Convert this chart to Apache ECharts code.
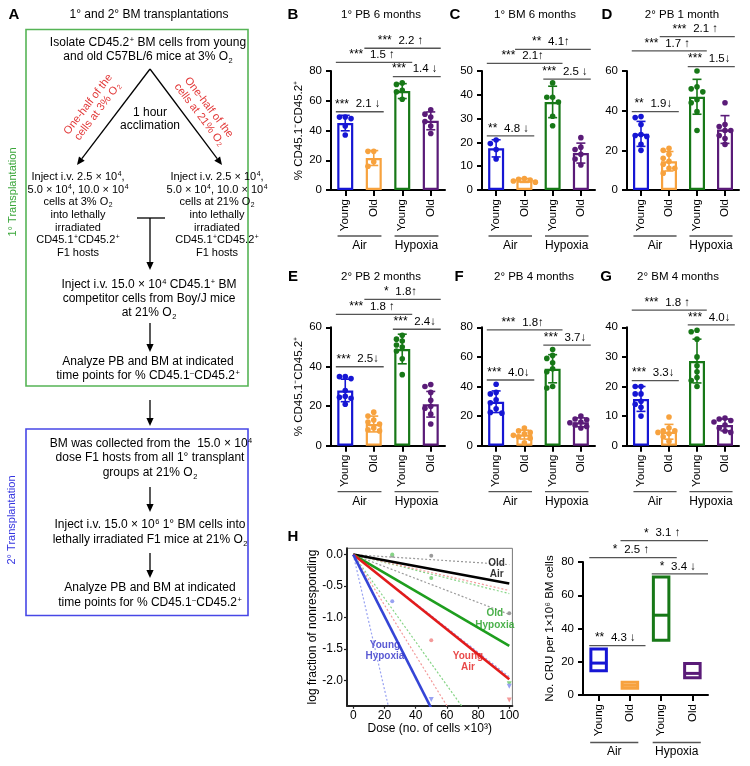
<!DOCTYPE html>
<html><head><meta charset="utf-8">
<script src="https://cdn.jsdelivr.net/npm/echarts@6/dist/echarts.min.js"></script>
<style>html,body{margin:0;padding:0;background:#fff}#c{width:750px;height:766px}</style>
</head><body><div id="c"></div>
<script>
const FONT = 'Liberation Sans, Arial, Helvetica, sans-serif';

// ---------- DATA ----------
const groups = ['Young', 'Old', 'Young', 'Old'];
const conditions = ['Air', 'Hypoxia'];
const yTitle = '% CD45.1\u207BCD45.2\u207A';

// B: 1° PB 6 months
const bMeans = [45, 21.5, 66.5, 46.5];
const bSD = [5.2, 5, 5, 6];
const bPoints = [[49, 49, 48, 43, 37], [26, 26, 19, 16], [72, 71, 67, 66, 61], [54, 51, 49, 46, 43, 38]];
const bPairs = [[0, 1], [0, 2], [1, 3], [2, 3]];
const bStars = ['***', '***', '***', '***'];
const bFolds = ['2.1 \u2193', '1.5 \u2191', '2.2 \u2191', '1.4 \u2193'];

// C: 1° BM 6 months
const cMeans = [17.5, 4, 37, 15.5];
const cSD = [3.6, 0.8, 6.6, 4.2];
const cPoints = [[21, 19.5, 17, 13], [4.8, 4.2, 3.8, 3.3, 4.5], [45, 39, 39, 37, 31, 27], [22, 18, 17, 15, 13, 10.5]];
const cPairs = [[0, 1], [0, 2], [1, 3], [2, 3]];
const cStars = ['**', '***', '**', '***'];
const cFolds = ['4.8 \u2193', '2.1\u2191', '4.1\u2191', '2.5 \u2193'];

// D: 2° PB 1 month
const dMeans = [28.3, 14.5, 47, 30.5];
const dSD = [6.3, 4.9, 8.8, 7];
const dPoints = [[37, 36.5, 33, 28, 27.5, 27, 23, 20], [21, 20, 18, 16, 14.5, 13, 11, 11, 8.5], [60, 52, 51, 49.5, 45.5, 44, 39.5, 30], [44, 33, 32, 30, 30, 27.5, 26, 23]];
const dPairs = [[0, 1], [0, 2], [1, 3], [2, 3]];
const dStars = ['**', '***', '***', '***'];
const dFolds = ['1.9\u2193', '1.7 \u2191', '2.1 \u2191', '1.5\u2193'];

// E: 2° PB 2 months
const eMeans = [28, 11, 49, 21];
const eSD = [5.7, 4, 7.5, 6.5];
const ePoints = [[35, 34, 35, 28, 25, 24.5, 24, 21], [17, 15, 13, 12, 11, 9, 8, 7.5], [56, 54, 53, 51, 50, 48, 44, 36], [31, 30, 27, 23, 20, 19, 16, 11]];
const ePairs = [[0, 1], [0, 2], [1, 3], [2, 3]];
const eStars = ['***', '***', '*', '***'];
const eFolds = ['2.5\u2193', '1.8 \u2191', '1.8\u2191', '2.4\u2193'];

// F: 2° PB 4 months
const fMeans = [29.7, 7.5, 52, 15.8];
const fSD = [7.3, 3, 9.5, 3];
const fPoints = [[41.5, 36, 35, 31, 29, 25, 22.5, 22], [12, 10, 9, 8, 7, 6, 5, 2], [65, 61, 59, 56, 52, 50, 40, 39], [20, 18, 17.5, 16, 15.5, 14, 13, 12]];
const fPairs = [[0, 1], [0, 2], [2, 3]];
const fStars = ['***', '***', '***'];
const fFolds = ['4.0\u2193', '1.8\u2191', '3.7\u2193'];

// G: 2° BM 4 months
const gMeans = [15.8, 4.7, 28.6, 7];
const gSD = [4.2, 2.5, 7.4, 2];
const gPoints = [[20, 20, 17.5, 17.5, 15, 14, 13, 10], [9.7, 6, 5, 5, 4.5, 4, 3, 1.5], [39, 38.5, 36, 30, 27, 25, 23, 22, 20], [9.3, 9, 8.5, 8, 7, 6, 5, 4.5]];
const gPairs = [[0, 1], [0, 2], [2, 3]];
const gStars = ['***', '***', '***'];
const gFolds = ['3.3\u2193', '1.8 \u2191', '4.0\u2193'];

// H right: CRU per 1x10^6 BM cells (low CI, estimate, high CI)
const cruLow = [14.6, 4, 33, 10.4];
const cruMid = [19.2, 5.8, 48, 13];
const cruHigh = [27.7, 7.6, 71, 19];
const hPairs = [[0, 1], [0, 2], [1, 3], [2, 3]];
const hStars = ['**', '*', '*', '*'];
const hFolds = ['4.3 \u2193', '2.5 \u2191', '3.1 \u2191', '3.4 \u2193'];

// H left: limiting dilution fits (log fraction at dose 100 x10^3), estimate + CI bounds
const ldaNames = ['Old Air', 'Old Hypoxia', 'Young Air', 'Young Hypoxia'];
const ldaFitAt100 = [-0.46, -1.45, -1.98, -4.88];
const ldaUpperAt100 = [-0.16, -0.62, -0.57, -1.94];
const ldaLowerAt100 = [-0.95, -3.46, -4.0, -10.7];
const ldaDoseTicks = [0, 20, 40, 60, 80, 100];
const ldaLogTicks = [0, -0.5, -1, -1.5, -2];
// observed points: [dose, log fraction]
const oldAirObs = [[25, -0.02], [50, -0.02], [100, -0.93]];
const oldHypObs = [[25, 0.0], [50, -0.37]];
const oldHypAll = [[100, -2.05]];
const youngAirObs = [[50, -1.36]];
const youngAirAll = [[100, -2.31]];
const youngHypObs = [[25, -0.74]];
const youngHypAll = [[50, -2.3], [100, -2.09]];

// ---------- STYLE / LAYOUT ----------
const barColors = ['#1616d4', '#f7a23e', '#177817', '#5a1b78'];
const ldaSolid = ['#000000', '#1e9e1e', '#e21b1b', '#3545d6'];
const ldaDot = ['#9a9a9a', '#86d486', '#f39a9a', '#98a2f2'];

const panels = [
  {letter: 'B', title: '1\u00B0 PB 6 months', means: bMeans, sd: bSD, pts: bPoints, pairs: bPairs, stars: bStars, folds: bFolds,
   levels: [52.6, 85.8, 95.3, 76.2], max: 80, interval: 20, left: 331, top: 71, width: 114, height: 119, yName: true, lx: 293, tx: 381, ty: 15},
  {letter: 'C', title: '1\u00B0 BM 6 months', means: cMeans, sd: cSD, pts: cPoints, pairs: cPairs, stars: cStars, folds: cFolds,
   levels: [22.7, 53.2, 59.1, 46.6], max: 50, interval: 10, left: 482, top: 71, width: 113, height: 119, yName: false, lx: 455, tx: 535, ty: 15},
  {letter: 'D', title: '2\u00B0 PB 1 month', means: dMeans, sd: dSD, pts: dPoints, pairs: dPairs, stars: dStars, folds: dFolds,
   levels: [39.5, 70.1, 77.3, 62.2], max: 60, interval: 20, left: 627, top: 71, width: 112, height: 119, yName: false, lx: 607, tx: 682, ty: 15},
  {letter: 'E', title: '2\u00B0 PB 2 months', means: eMeans, sd: eSD, pts: ePoints, pairs: ePairs, stars: eStars, folds: eFolds,
   levels: [40, 66.6, 74.2, 59], max: 60, interval: 20, left: 331, top: 327.3, width: 114, height: 118.4, yName: true, lx: 293, tx: 381, ty: 277},
  {letter: 'F', title: '2\u00B0 PB 4 months', means: fMeans, sd: fSD, pts: fPoints, pairs: fPairs, stars: fStars, folds: fFolds,
   levels: [44.4, 78.2, 68], max: 80, interval: 20, left: 482, top: 327.3, width: 113, height: 118.4, yName: false, lx: 459, tx: 534, ty: 277},
  {letter: 'G', title: '2\u00B0 BM 4 months', means: gMeans, sd: gSD, pts: gPoints, pairs: gPairs, stars: gStars, folds: gFolds,
   levels: [22, 45.8, 40.8], max: 40, interval: 10, left: 627, top: 327.3, width: 112, height: 118.4, yName: false, lx: 606, tx: 678, ty: 277}
];

const grids = [], xAxes = [], yAxes = [], series = [], graphics = [];

function swarm(values, pxPerUnit) {
  const order = values.map((v, i) => i).sort((a, b) => values[b] - values[a]);
  const placed = [];
  const offs = new Array(values.length).fill(0);
  const cands = [0, -5.8, 5.8, -11, 11, -2.9, 2.9, -8.5, 8.5];
  order.forEach(i => {
    const y = values[i] * pxPerUnit;
    let chosen = 0;
    for (const c of cands) {
      if (placed.every(p => Math.hypot(p[0] - c, p[1] - y) >= 5.4)) { chosen = c; break; }
    }
    offs[i] = chosen; placed.push([chosen, y]);
  });
  return offs;
}

function catAxes(gi, p, nameText, nameGap) {
  grids.push({left: p.left, top: p.top, width: p.width, height: p.height, outerBoundsMode: 'none', containLabel: false});
  xAxes.push({type: 'category', gridIndex: gi, data: groups, boundaryGap: true,
    axisLine: {show: true, onZero: false, lineStyle: {color: '#000', width: 2}},
    axisTick: {show: true, alignWithLabel: true, length: 6, inside: false, lineStyle: {color: '#000', width: 2}},
    axisLabel: {interval: 0, rotate: 90, margin: 9, fontSize: 11.5, color: '#000', fontFamily: FONT},
    splitLine: {show: false}});
  yAxes.push({type: 'value', gridIndex: gi, min: 0, max: p.max, interval: p.interval,
    axisLine: {show: true, lineStyle: {color: '#000', width: 2}},
    axisTick: {show: true, length: 5, lineStyle: {color: '#000', width: 2}},
    axisLabel: {fontSize: 11.5, color: '#000', margin: 9, fontFamily: FONT},
    splitLine: {show: false},
    name: nameText || '', nameLocation: 'middle', nameGap: nameGap || 25,
    nameTextStyle: {fontSize: 11.5, color: '#000', fontFamily: FONT}});
}

function sigSeries(gi, p, x1f, x2f) {
  return {type: 'custom', xAxisIndex: gi, yAxisIndex: gi, clip: false, silent: true, z: 5,
    encode: {x: 0, y: 1},
    data: p.pairs.map((pr, k) => [pr[0], p.levels[k]]),
    renderItem: (params, api) => {
      const k = params.dataIndex;
      const pr = p.pairs[k];
      const lvl = p.levels[k];
      const a = api.coord([pr[0], lvl]), b = api.coord([pr[1], lvl]);
      const band = api.size([1, 0], [pr[0], lvl])[0];
      const x1 = a[0] - x1f * band, x2 = b[0] + x2f * band, y = a[1];
      return {type: 'group', children: [
        {type: 'line', shape: {x1: x1, y1: y, x2: x2, y2: y}, style: {stroke: '#555', lineWidth: 1.3}},
        {type: 'text', x: (x1 + x2) / 2 - 2, y: y - 1.5,
         style: {text: '{s|' + p.stars[k] + '}  {f|' + p.folds[k] + '}', align: 'center', verticalAlign: 'bottom',
           fill: '#000', fontFamily: FONT,
           rich: {s: {fontSize: 12, fontFamily: FONT, fill: '#000'},
                  f: {fontSize: 11.5, fontFamily: FONT, fill: '#000'}}}}
      ]};
    }};
}

function groupLabelSeries(gi, lineOff, textOff) {
  return {type: 'custom', xAxisIndex: gi, yAxisIndex: gi, clip: false, silent: true, z: 5,
    encode: {x: 0, y: 1},
    data: [[0, 0], [2, 0]],
    renderItem: (params, api) => {
      const i = api.value(0);
      const a = api.coord([i, 0]), b = api.coord([i + 1, 0]);
      const band = api.size([1, 0], [i, 0])[0];
      const x1 = a[0] - 0.27 * band, x2 = b[0] + 0.27 * band;
      return {type: 'group', children: [
        {type: 'line', shape: {x1: x1, y1: a[1] + lineOff, x2: x2, y2: a[1] + lineOff}, style: {stroke: '#555', lineWidth: 1.3}},
        {type: 'text', x: (x1 + x2) / 2, y: a[1] + textOff,
         style: {text: conditions[params.dataIndex], align: 'center', verticalAlign: 'middle', fontSize: 12, fontFamily: FONT, fill: '#000'}}
      ]};
    }};
}

panels.forEach((p, gi) => {
  catAxes(gi, p, p.yName ? yTitle : '', 25);
  const ppu = p.height / p.max;
  series.push({type: 'bar', xAxisIndex: gi, yAxisIndex: gi, barWidth: 16, silent: true, z: 2,
    data: p.means.map((m, k) => ({value: m, itemStyle: {color: '#fff', borderColor: barColors[k], borderWidth: 2.2}}))});
  const ptsData = [];
  p.pts.forEach((arr, k) => {
    const offs = swarm(arr, ppu);
    arr.forEach((v, r) => ptsData.push([k, v, offs[r]]));
  });
  series.push({type: 'custom', xAxisIndex: gi, yAxisIndex: gi, silent: true, z: 3, clip: false,
    encode: {x: 0, y: 1}, data: ptsData,
    renderItem: (params, api) => {
      const k = api.value(0), v = api.value(1), dx = api.value(2);
      const c = api.coord([k, v]);
      return {type: 'circle', shape: {cx: c[0] + dx, cy: c[1], r: 2.8}, style: {fill: barColors[k]}};
    }});
  series.push({type: 'custom', xAxisIndex: gi, yAxisIndex: gi, silent: true, z: 4, clip: false,
    encode: {x: 0, y: 1}, data: p.means.map((m, k) => [k, m, p.sd[k]]),
    renderItem: (params, api) => {
      const k = api.value(0), m = api.value(1), s = api.value(2);
      const t = api.coord([k, m + s]), b = api.coord([k, m - s]);
      const x = t[0], col = barColors[k];
      const st = {stroke: col, lineWidth: 1.6};
      return {type: 'group', children: [
        {type: 'line', shape: {x1: x, y1: t[1], x2: x, y2: b[1]}, style: st},
        {type: 'line', shape: {x1: x - 4.5, y1: t[1], x2: x + 4.5, y2: t[1]}, style: st},
        {type: 'line', shape: {x1: x - 4.5, y1: b[1], x2: x + 4.5, y2: b[1]}, style: st}
      ]};
    }});
  series.push(sigSeries(gi, p, 0.33, 0.35));
  series.push(groupLabelSeries(gi, 46, 55.5));
  graphics.push({type: 'text', x: p.lx, y: p.ty, style: {text: p.letter, fontSize: 15, fontWeight: 'bold', fontFamily: FONT, fill: '#000', align: 'center', verticalAlign: 'middle'}});
  graphics.push({type: 'text', x: p.tx, y: p.ty, style: {text: p.title, fontSize: 11.5, fontFamily: FONT, fill: '#000', align: 'center', verticalAlign: 'middle'}});
});

// ---------- H right ----------
const hp = {pairs: hPairs, stars: hStars, folds: hFolds, levels: [29.7, 82.6, 92.8, 72.8],
  max: 80, interval: 20, left: 583, top: 562, width: 125, height: 133};
const hi = panels.length;
catAxes(hi, hp, 'No. CRU per 1\u00D710\u2076 BM cells', 27);
series.push({type: 'custom', xAxisIndex: hi, yAxisIndex: hi, silent: true, z: 3, clip: false,
  encode: {x: 0, y: 2},
  data: cruMid.map((m, k) => [k, cruLow[k], m, cruHigh[k]]),
  renderItem: (params, api) => {
    const k = api.value(0);
    const lo = api.coord([k, api.value(1)]), md = api.coord([k, api.value(2)]), hiC = api.coord([k, api.value(3)]);
    const w = 15.5, x = lo[0] - w / 2;
    const st = {stroke: barColors[k], lineWidth: 3, fill: '#fff'};
    return {type: 'group', children: [
      {type: 'rect', shape: {x: x, y: hiC[1], width: w, height: lo[1] - hiC[1]}, style: st},
      {type: 'line', shape: {x1: x, y1: md[1], x2: x + w, y2: md[1]}, style: {stroke: barColors[k], lineWidth: 3}}
    ]};
  }});
series.push(sigSeries(hi, hp, 0.3, 0.5));
series.push(groupLabelSeries(hi, 47.5, 57));

// ---------- H left ----------
const li = hi + 1;
grids.push({left: 347, top: 548.3, width: 165.4, height: 157.4, outerBoundsMode: 'none', containLabel: false,
  show: true, borderColor: '#777', borderWidth: 1, backgroundColor: 'transparent'});
xAxes.push({type: 'value', gridIndex: li, min: -4, max: 102,
  axisLine: {show: true, onZero: false, lineStyle: {color: '#222', width: 2}},
  axisTick: {show: true, length: 3, customValues: ldaDoseTicks, lineStyle: {color: '#222', width: 1.2}},
  axisLabel: {customValues: ldaDoseTicks, fontSize: 12, color: '#000', margin: 4, fontFamily: FONT},
  splitLine: {show: false},
  name: 'Dose (no. of cells \u00D710\u00B3)', nameLocation: 'middle', nameGap: 16,
  nameTextStyle: {fontSize: 12, color: '#000', fontFamily: FONT, verticalAlign: 'top'}});
yAxes.push({type: 'value', gridIndex: li, min: -2.4, max: 0.1,
  axisLine: {show: true, onZero: false, lineStyle: {color: '#222', width: 2}},
  axisTick: {show: true, length: 3, customValues: ldaLogTicks, lineStyle: {color: '#222', width: 1.2}},
  axisLabel: {customValues: ldaLogTicks, fontSize: 12, color: '#000', margin: 4, fontFamily: FONT,
    formatter: v => Number(v).toFixed(1)},
  splitLine: {show: false},
  name: 'log fraction of nonresponding', nameLocation: 'middle', nameGap: 27,
  nameTextStyle: {fontSize: 12, color: '#000', fontFamily: FONT}});

ldaNames.forEach((nm, k) => {
  [ldaUpperAt100[k], ldaLowerAt100[k]].forEach(v => {
    series.push({type: 'line', xAxisIndex: li, yAxisIndex: li, silent: true, symbol: 'none', clip: true, z: 2,
      data: [[0, 0], [100, v]], lineStyle: {color: ldaDot[k], width: 1.2, type: [2, 2]}});
  });
});
ldaNames.forEach((nm, k) => {
  series.push({type: 'line', xAxisIndex: li, yAxisIndex: li, silent: true, symbol: 'none', clip: true, z: 3,
    data: [[0, 0], [100, ldaFitAt100[k]]], lineStyle: {color: ldaSolid[k], width: 2.6}});
});
const obsSets = [[oldAirObs, 0, 'circle'], [oldHypObs, 1, 'circle'], [oldHypAll, 1, 'triangle'],
  [youngAirObs, 2, 'circle'], [youngAirAll, 2, 'triangle'], [youngHypObs, 3, 'circle'], [youngHypAll, 3, 'triangle']];
obsSets.forEach(([d, k, sym]) => {
  series.push({type: 'scatter', xAxisIndex: li, yAxisIndex: li, silent: true, z: 4, data: d,
    symbol: sym, symbolRotate: sym === 'triangle' ? 180 : 0, symbolSize: sym === 'triangle' ? 5 : 4,
    itemStyle: {color: ldaDot[k], opacity: 1}});
});
// group labels inside the plot
const ldaLabelPos = [[91.9, -0.225], [90.7, -1.03], [73.5, -1.70], [20.3, -1.53]];
const ldaLabelText = ['Old\nAir', 'Old\nHypoxia', 'Young\nAir', 'Young\nHypoxia'];
const ldaLabelColor = ['#000', '#1e9e1e', '#e21b1b', '#3030c8'];
ldaLabelPos.forEach((pos, k) => {
  series.push({type: 'scatter', xAxisIndex: li, yAxisIndex: li, silent: true, z: 6, symbolSize: 0,
    data: [pos],
    label: {show: true, position: 'inside', formatter: ldaLabelText[k], color: ldaLabelColor[k], fontWeight: 'bold',
      fontSize: 10, lineHeight: 11.5, fontFamily: FONT, align: 'center'}});
});
graphics.push({type: 'text', x: 293, y: 537, style: {text: 'H', fontSize: 15, fontWeight: 'bold', fontFamily: FONT, fill: '#000', align: 'center', verticalAlign: 'middle'}});

// ---------- Panel A (flow chart) ----------
const AFS = 12;
function T(x, y, text, opt) {
  opt = opt || {};
  const fs = opt.fs || AFS;
  const lh = opt.lh || 14;
  const col = opt.color || '#000';
  graphics.push({type: 'text', x: x, y: y, rotation: opt.rot || 0,
    style: {text: text, fontSize: fs, fontFamily: FONT, fill: col,
      fontWeight: opt.bold ? 'bold' : 'normal', align: 'center', verticalAlign: 'middle', lineHeight: lh,
      rich: {
        u: {fontSize: fs * 0.62, fontFamily: FONT, fill: col, verticalAlign: 'top', lineHeight: lh, padding: [0, 0, 0, 0.5]},
        d: {fontSize: fs * 0.62, fontFamily: FONT, fill: col, verticalAlign: 'bottom', lineHeight: lh, padding: [0, 0, 0, 0.5]}
      }}});
}
function arrow(x1, y1, x2, y2) {
  const head = 8, w = 3.6;
  const ang = Math.atan2(y2 - y1, x2 - x1);
  const bx = x2 - head * Math.cos(ang), by = y2 - head * Math.sin(ang);
  const nx = -Math.sin(ang) * w, ny = Math.cos(ang) * w;
  graphics.push({type: 'line', shape: {x1: x1, y1: y1, x2: bx, y2: by}, style: {stroke: '#000', lineWidth: 1.3}});
  graphics.push({type: 'polygon', shape: {points: [[x2, y2], [bx + nx, by + ny], [bx - nx, by - ny]]}, style: {fill: '#000'}});
}
function L(x1, y1, x2, y2) {
  graphics.push({type: 'line', shape: {x1: x1, y1: y1, x2: x2, y2: y2}, style: {stroke: '#000', lineWidth: 1.3}});
}

T(14, 15, 'A', {fs: 15, bold: true});
T(149, 15, '1\u00B0 and 2\u00B0 BM transplantations');
graphics.push({type: 'rect', shape: {x: 26, y: 29.5, width: 222, height: 356.5}, style: {fill: 'none', stroke: '#56b456', lineWidth: 1.6}});
T(13, 192, '1\u00B0 Transplantation', {rot: Math.PI / 2, color: '#3aa63a', fs: 11});
T(148, 43, 'Isolate CD45.2{u|+} BM cells from young');
T(148, 57, 'and old C57BL/6 mice at 3% O{d|2}');
arrow(150, 69, 77, 165);
arrow(150, 69, 222, 165);
T(93, 108, 'One-half of the\ncells at 3% O{d|2}', {rot: 0.92, color: '#e23a3a', fs: 11, lh: 12});
T(204, 111, 'One-half of the\ncells at 21% O{d|2}', {rot: -0.92, color: '#e23a3a', fs: 11, lh: 12});
T(150, 113, '1 hour');
T(150, 126, 'acclimation');
T(78, 215, 'Inject i.v. 2.5 \u00D7 10{u|4},\n5.0 \u00D7 10{u|4}, 10.0 \u00D7 10{u|4}\ncells at 3% O{d|2}\ninto lethally\nirradiated\nCD45.1{u|+}CD45.2{u|+}\nF1 hosts', {lh: 12.7, fs: 11});
T(217, 215, 'Inject i.v. 2.5 \u00D7 10{u|4},\n5.0 \u00D7 10{u|4}, 10.0 \u00D7 10{u|4}\ncells at 21% O{d|2}\ninto lethally\nirradiated\nCD45.1{u|+}CD45.2{u|+}\nF1 hosts', {lh: 12.7, fs: 11});
L(137, 218, 165, 218);
arrow(150, 218, 150, 270);
T(149, 285, 'Inject i.v. 15.0 \u00D7 10{u|4} CD45.1{u|+} BM');
T(149, 299, 'competitor cells from Boy/J mice');
T(149, 313, 'at 21% O{d|2}');
arrow(150, 323, 150, 352);
T(148, 362, 'Analyze PB and BM at indicated');
T(148, 376, 'time points for % CD45.1{u|\u2013}CD45.2{u|+}');
arrow(150, 400, 150, 426);
graphics.push({type: 'rect', shape: {x: 26, y: 429, width: 222, height: 186.5}, style: {fill: 'none', stroke: '#4747e6', lineWidth: 1.6}});
T(12, 520, '2\u00B0 Transplantation', {rot: Math.PI / 2, color: '#3434e0', fs: 11});
T(151, 444, 'BM was collected from the  15.0 \u00D7 10{u|4}');
T(150, 458, 'dose F1 hosts from all 1\u00B0 transplant');
T(150, 473, 'groups at 21% O{d|2}');
arrow(150, 487, 150, 512);
T(150, 525, 'Inject i.v. 15.0 \u00D7 10{u|6} 1\u00B0 BM cells into');
T(150, 540, 'lethally irradiated F1 mice at 21% O{d|2}');
arrow(150, 553, 150, 578);
T(150, 588, 'Analyze PB and BM at indicated');
T(150, 603, 'time points for % CD45.1{u|\u2013}CD45.2{u|+}');

const chart = echarts.init(document.getElementById('c'), null, {renderer: 'canvas', width: 750, height: 766});
chart.setOption({
  animation: false,
  backgroundColor: '#fff',
  textStyle: {fontFamily: FONT},
  grid: grids, xAxis: xAxes, yAxis: yAxes, series: series, graphic: graphics
});
</script></body></html>
